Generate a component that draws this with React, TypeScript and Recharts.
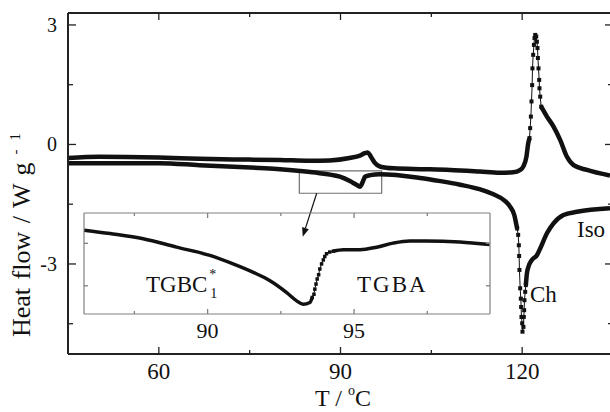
import {
  ComposedChart,
  Line,
  XAxis,
  YAxis,
  ReferenceArea,
  ReferenceLine,
} from "recharts";

const FONT = '"Liberation Serif", "Times New Roman", serif';
const INK = "#111";

// heating run (upper trace), T in °C, heat flow in W/g
const heatT = [
  45, 50.2, 60, 66.7, 75, 80, 84.9, 88.2, 91.5, 93.2, 94.0, 94.5, 95.0, 95.6,
  96.6, 98.8, 104, 108.1, 113, 116.3, 118.5, 119.7, 120.2, 120.7, 121.0,
  121.21, 121.32, 121.44, 121.54, 121.65, 121.7, 121.82, 121.94, 122.04, 122.15,
  122.32, 122.43, 122.53, 122.6, 122.7, 122.81, 122.86, 122.98, 123.14,
  124.09, 125.18, 126.29, 127.4, 128.49, 130.7, 134.5,
];
const heatHF = [
  -0.34, -0.31, -0.33, -0.36, -0.38, -0.39, -0.41, -0.4, -0.34, -0.28, -0.22,
  -0.2, -0.3, -0.45, -0.56, -0.6, -0.62, -0.64, -0.68, -0.71, -0.7, -0.64,
  -0.55, -0.31, 0.03, 0.16, 0.41, 0.7, 1.08, 1.49, 1.91, 2.25, 2.5, 2.67, 2.75,
  2.71, 2.58, 2.42, 2.17, 1.91, 1.62, 1.41, 1.2, 0.95, 0.7, 0.45, 0.11, -0.31,
  -0.52, -0.64, -0.78,
];

// cooling run (lower trace)
const coolT = [
  45, 60.1, 66.7, 76.6, 80, 85.4, 89.9, 91.55, 92.7, 93.2, 93.7, 94.05, 94.9,
  96.5, 103.1, 106.5, 109.75, 113.1, 115.25, 117.2, 118.0, 118.7, 119.0,
  119.17, 119.34, 119.45, 119.5, 119.55, 119.67, 119.78, 119.83, 119.88, 120.0,
  120.05, 120.21, 120.27, 120.33, 120.38, 120.5, 120.61, 120.78, 121.04, 121.6,
  122.43, 122.98, 124.09, 125.18, 126.83, 129.05, 134.5,
];
const coolHF = [
  -0.47, -0.47, -0.52, -0.59, -0.62, -0.7, -0.81, -0.92, -1.02, -1.06, -0.93,
  -0.81, -0.77, -0.75, -0.84, -0.92, -1.01, -1.13, -1.25, -1.42, -1.56, -1.77,
  -1.98, -2.11, -2.27, -2.53, -2.8, -3.15, -3.61, -3.87, -4.08, -4.33, -4.49,
  -4.7, -4.58, -4.33, -4.16, -3.91, -3.7, -3.53, -3.24, -3.07, -2.9, -2.78,
  -2.61, -2.23, -1.98, -1.77, -1.69, -1.6,
];

// inset: cooling trace around the TGBC*1 - TGBA transition
const insetT = [
  85.78, 86.67, 87.8, 88.94, 90.08, 90.87, 91.56, 92.13, 92.7, 93.04, 93.26,
  93.49, 93.57, 93.63, 93.66, 93.7, 93.74, 93.79, 93.83, 93.89, 93.95, 94.0,
  94.06, 94.17, 94.29, 94.63, 95.2, 95.77, 96.33, 96.9, 97.47, 98.61, 99.63,
];
const insetHF = [
  -0.738, -0.754, -0.778, -0.818, -0.857, -0.897, -0.937, -0.976, -1.032,
  -1.071, -1.087, -1.079, -1.055, -1.04, -1.016, -0.992, -0.968, -0.948,
  -0.921, -0.897, -0.878, -0.862, -0.849, -0.841, -0.837, -0.83, -0.83, -0.818,
  -0.799, -0.789, -0.789, -0.794, -0.806,
];

const xTicks = [60, 75, 90, 105, 120];
const yTicks = [-4.5, -3, -1.5, 0, 1.5, 3];
const insetXTicks = [87.5, 90, 92.5, 95, 97.5];
const insetYTicks = [-1.0, -0.8];

// zoom box and arrow (data coordinates)
const boxT = [83.2, 96.8];
const boxHF = [-1.225, -0.665];
const arrowFrom = { x: 86.07, y: -1.225 };
const arrowTo = { x: 83.76, y: -2.315 };

type Pt = { t: number; hf: number };

function split(ts: number[], vs: number[], lo: number, hi: number) {
  const pts: Pt[] = ts.map((t, i) => ({ t, hf: vs[i] }));
  const i0 = pts.findIndex((p) => p.t >= lo);
  let i1 = pts.length - 1;
  while (pts[i1].t > hi) i1--;
  return {
    before: pts.slice(0, i0 + 1),
    mid: pts.slice(i0, i1 + 1),
    after: pts.slice(i1),
  };
}

const heat = split(heatT, heatHF, 121.1, 123.2);
const cool = split(coolT, coolHF, 119.1, 120.7);
const ins = split(insetT, insetHF, 93.5, 94.35);

const square = (size: number) => (p: any) => (
  <rect
    key={`sq-${p.index}`}
    x={p.cx - size / 2}
    y={p.cy - size / 2}
    width={size}
    height={size}
    fill={INK}
  />
);

type Side = "left" | "right" | "top" | "bottom";

function makeTick(
  side: Side,
  isMajor: (v: number) => boolean,
  major: number,
  minor: number,
  color: string,
  label?: { size: number; gap: number }
) {
  return (props: any) => {
    const { x, y, payload } = props;
    const v = payload.value as number;
    const big = isMajor(v);
    const len = big ? major : minor;
    let line;
    if (side === "left") line = <line x1={x} y1={y} x2={x + len} y2={y} />;
    else if (side === "right") line = <line x1={x} y1={y} x2={x - len} y2={y} />;
    else if (side === "top") line = <line x1={x} y1={y} x2={x} y2={y + len} />;
    else line = <line x1={x} y1={y} x2={x} y2={y - len} />;
    let text = null;
    if (label && big) {
      if (side === "left")
        text = (
          <text x={x - label.gap} y={y + label.size * 0.34} textAnchor="end" fontSize={label.size} fill={INK} fontFamily={FONT}>
            {v}
          </text>
        );
      else
        text = (
          <text x={x} y={y + label.gap} textAnchor="middle" fontSize={label.size} fill={INK} fontFamily={FONT}>
            {v}
          </text>
        );
    }
    return (
      <g>
        <g stroke={color} strokeWidth={1.3}>{line}</g>
        {text}
      </g>
    );
  };
}

const mod = (v: number, m: number) => Math.abs(Math.round(v / m) * m - v) < 1e-6;

const arrowShape = (p: any) => {
  const { x1, y1, x2, y2 } = p;
  const dx = x2 - x1;
  const dy = y2 - y1;
  const l = Math.hypot(dx, dy);
  const ux = dx / l;
  const uy = dy / l;
  const hl = 9;
  const hw = 3.5;
  const bx = x2 - ux * hl;
  const by = y2 - uy * hl;
  return (
    <g>
      <line x1={x1} y1={y1} x2={bx} y2={by} stroke={INK} strokeWidth={1.2} />
      <polygon
        points={`${x2},${y2} ${bx - uy * hw},${by + ux * hw} ${bx + uy * hw},${by - ux * hw}`}
        fill={INK}
      />
    </g>
  );
};

const thick = (data: Pt[], w: number, k: string) => (
  <Line
    key={k}
    data={data}
    dataKey="hf"
    type="monotone"
    stroke={INK}
    strokeWidth={w}
    dot={false}
    activeDot={false}
    isAnimationActive={false}
    strokeLinejoin="round"
  />
);

const dotted = (data: Pt[], size: number, k: string) => (
  <Line
    key={k}
    data={data}
    dataKey="hf"
    type="linear"
    stroke={INK}
    strokeWidth={1}
    dot={square(size)}
    activeDot={false}
    isAnimationActive={false}
  />
);

const AXIS = "#222";
const INSET = "#808080";

export default function App() {
  return (
    <div
      style={{
        position: "absolute",
        left: 0,
        top: 0,
        width: 610,
        height: 412,
        overflow: "hidden",
        background: "#fff",
      }}
    >
      <ComposedChart width={614} height={412} margin={{ top: 12, right: 0, bottom: 0, left: 0 }}>
        <XAxis
          type="number"
          dataKey="t"
          domain={[45, 135]}
          ticks={xTicks}
          allowDataOverflow
          height={58}
          axisLine={{ stroke: AXIS, strokeWidth: 2 }}
          tickLine={false}
          tickSize={0}
          tickMargin={0}
          interval={0}
          tick={makeTick("bottom", (v) => mod(v, 30), 7, 4, AXIS, { size: 23, gap: 25 })}
        />
        <XAxis
          xAxisId="top"
          orientation="top"
          type="number"
          dataKey="t"
          domain={[45, 135]}
          ticks={xTicks}
          allowDataOverflow
          height={1}
          axisLine={{ stroke: AXIS, strokeWidth: 2 }}
          tickLine={false}
          tickSize={0}
          tickMargin={0}
          interval={0}
          tick={makeTick("top", (v) => mod(v, 30), 7, 4, AXIS)}
        />
        <YAxis
          type="number"
          domain={[-5.26, 3.3]}
          ticks={yTicks}
          allowDataOverflow
          width={68}
          axisLine={{ stroke: AXIS, strokeWidth: 2 }}
          tickLine={false}
          tickSize={0}
          tickMargin={0}
          interval={0}
          tick={makeTick("left", (v) => mod(v, 3), 8, 5, AXIS, { size: 20, gap: 11 })}
        />
        <YAxis
          yAxisId="right"
          orientation="right"
          type="number"
          domain={[-5.26, 3.3]}
          ticks={yTicks}
          allowDataOverflow
          width={1}
          axisLine={{ stroke: AXIS, strokeWidth: 2 }}
          tickLine={false}
          tickSize={0}
          tickMargin={0}
          interval={0}
          tick={makeTick("right", (v) => mod(v, 3), 8, 5, AXIS)}
        />
        <ReferenceArea
          x1={boxT[0]}
          x2={boxT[1]}
          y1={boxHF[0]}
          y2={boxHF[1]}
          fill="none"
          fillOpacity={0}
          stroke="#707070"
          strokeWidth={1.2}
        />
        <ReferenceLine segment={[arrowFrom, arrowTo]} shape={arrowShape} />
        {thick(heat.before, 4.5, "hb")}
        {dotted(heat.mid, 4, "hm")}
        {thick(heat.after, 4.5, "ha")}
        {thick(cool.before, 4.5, "cb")}
        {dotted(cool.mid, 4, "cm")}
        {thick(cool.after, 4.5, "ca")}
      </ComposedChart>

      <div style={{ position: "absolute", left: 81, top: 210 }}>
        <ComposedChart width={412} height={134} margin={{ top: 2, right: 2, bottom: 0, left: 2 }}>
          <XAxis
            type="number"
            dataKey="t"
            domain={[85.78, 99.64]}
            ticks={insetXTicks}
            allowDataOverflow
            height={30}
            axisLine={{ stroke: INSET, strokeWidth: 1.2 }}
            tickLine={false}
            tickSize={0}
            tickMargin={0}
            interval={0}
            tick={makeTick("bottom", (v) => mod(v, 5), 5, 3, INSET, { size: 22, gap: 24 })}
          />
          <XAxis
            xAxisId="top"
            orientation="top"
            type="number"
            dataKey="t"
            domain={[85.78, 99.64]}
            ticks={insetXTicks}
            allowDataOverflow
            height={1}
            axisLine={{ stroke: INSET, strokeWidth: 1.2 }}
            tickLine={false}
            tickSize={0}
            tickMargin={0}
            interval={0}
            tick={makeTick("top", (v) => mod(v, 5), 5, 3, INSET)}
          />
          <YAxis
            type="number"
            domain={[-1.133, -0.657]}
            ticks={insetYTicks}
            allowDataOverflow
            width={1}
            axisLine={{ stroke: INSET, strokeWidth: 1.2 }}
            tickLine={false}
            tickSize={0}
            tickMargin={0}
            interval={0}
            tick={makeTick("left", () => true, 4, 4, INSET)}
          />
          <YAxis
            yAxisId="right"
            orientation="right"
            type="number"
            domain={[-1.133, -0.657]}
            ticks={insetYTicks}
            allowDataOverflow
            width={1}
            axisLine={{ stroke: INSET, strokeWidth: 1.2 }}
            tickLine={false}
            tickSize={0}
            tickMargin={0}
            interval={0}
            tick={makeTick("right", () => true, 4, 4, INSET)}
          />
          {thick(ins.before, 3.5, "ib")}
          {dotted(ins.mid, 3.5, "im")}
          {thick(ins.after, 3.5, "ia")}
        </ComposedChart>
      </div>

      <svg
        width={610}
        height={412}
        style={{ position: "absolute", left: 0, top: 0, pointerEvents: "none" }}
        fontFamily={FONT}
        fill={INK}
      >
        <text transform="translate(30,337) rotate(-90)" fontSize={26} wordSpacing={2}>
          Heat flow / W g
          <tspan dx={8} dy={-10} fontSize={15}>-</tspan>
          <tspan dx={9} fontSize={15}>1</tspan>
        </text>
        <text x={315} y={406} fontSize={24}>
          T / <tspan dy={-11} fontSize={14}>o</tspan>
          <tspan dy={11}>C</tspan>
        </text>
        <text x={577} y={237} fontSize={23}>Iso</text>
        <text x={530} y={302} fontSize={23}>Ch</text>
        <text x={146} y={292} fontSize={23}>
          TGBC
          <tspan dx={2} dy={-13} fontSize={14}>*</tspan>
          <tspan dx={-6} dy={19} fontSize={14}>1</tspan>
        </text>
        <text x={357} y={292} fontSize={23} letterSpacing={2}>TGBA</text>
      </svg>
    </div>
  );
}
